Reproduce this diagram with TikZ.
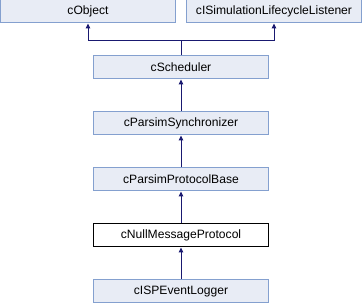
\documentclass[tikz,border=0pt]{standalone}
\usepackage{fontspec}
\setmainfont{Liberation Sans}
\usetikzlibrary{arrows.meta}
\definecolor{boxfill}{HTML}{E8ECF5}
\definecolor{boxline}{HTML}{84A0CF}
\definecolor{edge}{HTML}{191970}
\begin{document}
\begin{tikzpicture}[x=1pt,y=1pt,
  cls/.style={draw=boxline, fill=boxfill, line width=1pt, rectangle,
    minimum width=175pt, minimum height=23pt, inner sep=0pt,
    font=\fontsize{12.1}{14}\selectfont},
  cur/.style={cls, draw=black, fill=white},
  inh/.style={draw=edge, line width=1pt,
    -{Triangle[width=4.5pt,length=5pt]}}]
\useasboundingbox (0,0) rectangle (362,-304);
\node[cls] (obj)   at (88,-11.5)   {cObject};
\node[cls] (lst)   at (274,-11.5)  {cISimulationLifecycleListener};
\node[cls] (sch)   at (181,-67.5)  {cScheduler};
\node[cls] (sync)  at (181,-123.5) {cParsimSynchronizer};
\node[cls] (base)  at (181,-179.5) {cParsimProtocolBase};
\node[cur] (nmp)   at (181,-235.5) {cNullMessageProtocol};
\node[cls] (isp)   at (181,-291.5) {cISPEventLogger};
\coordinate (join) at (181,-40.5);
\draw[inh] (sch.north) -- (join) -| (obj.south);
\draw[inh] (join) -| (lst.south);
\draw[inh] (sync) -- (sch);
\draw[inh] (base) -- (sync);
\draw[inh] (nmp) -- (base);
\draw[inh] (isp) -- (nmp);
\end{tikzpicture}
\end{document}
